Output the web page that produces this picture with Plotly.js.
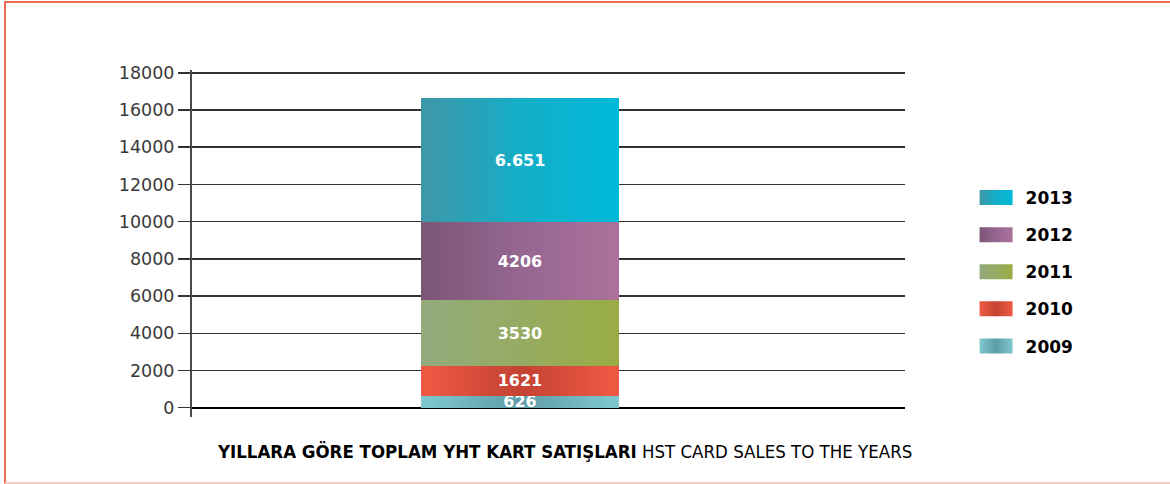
<!DOCTYPE html>
<html>
<head>
<meta charset="utf-8">
<script src="https://cdn.plot.ly/plotly-3.0.1.min.js"></script>
<style>
  html, body { margin: 0; padding: 0; background: #ffffff; }
  #frame { position: absolute; left: 4px; top: 1px; width: 1200px; height: 479px;
           border-left: 2px solid #ef6a55; border-top: 2px solid #ef6a55; border-bottom: 2px solid #f8cdc7; }
  #chart { position: absolute; left: 0; top: 0; width: 1170px; height: 484px; }
</style>
</head>
<body>
<div id="frame"></div>
<div id="chart"></div>
<script>
// ---- data ----
const years = ['2009', '2010', '2011', '2012', '2013'];
const values = [626, 1621, 3530, 4206, 6651];
const valueLabels = ['626', '1621', '3530', '4206', '6.651'];
const yTicks = [0, 2000, 4000, 6000, 8000, 10000, 12000, 14000, 16000, 18000];
const titleBold = 'YILLARA GÖRE TOPLAM YHT KART SATIŞLARI';
const titleRegular = 'HST CARD SALES TO THE YEARS';

// ---- styles ----
const solidColors = ['#72b6c1', '#de4f3d', '#96aa62', '#946690', '#1eaac6'];
const gradientStops = [
  ['#80c8d1', '#5e9da8', '#80c8d1'],
  ['#ef5943', '#c44333', '#ef5943'],
  ['#93ab7e', '#96ab62', '#99ac44'],
  ['#7c5676', '#956690', '#ab729b'],
  ['#3f97a7', '#14aec8', '#00bada']
];

const traces = years.map((yr, i) => ({
  type: 'bar',
  name: yr,
  legendgroup: 'g' + yr,
  legendrank: 100 - i * 10,
  x: [0.46],
  y: [values[i]],
  width: 0.278,
  text: [valueLabels[i]],
  textposition: 'inside',
  insidetextanchor: 'middle',
  constraintext: 'none',
  cliponaxis: false,
  textfont: { family: 'DejaVu Sans, sans-serif', size: 16, color: '#ffffff', weight: 'bold' },
  marker: { color: solidColors[i], line: { width: 0 } },
  hoverinfo: 'skip'
}));

const layout = {
  width: 1170,
  height: 484,
  margin: { l: 192, r: 265, t: 70, b: 67 },
  paper_bgcolor: 'rgba(0,0,0,0)',
  plot_bgcolor: 'rgba(0,0,0,0)',
  barmode: 'stack',
  showlegend: true,
  legend: {
    x: 1.099, xanchor: 'left',
    y: 0.683, yanchor: 'top',
    traceorder: 'grouped',
    tracegroupgap: 12,
    itemwidth: 40,
    font: { family: 'DejaVu Sans, sans-serif', size: 17, color: '#000000', weight: 'bold' },
    bgcolor: 'rgba(0,0,0,0)'
  },
  xaxis: {
    range: [0, 1],
    showticklabels: false,
    showgrid: false,
    zeroline: false,
    showline: false,
    ticks: ''
  },
  yaxis: {
    range: [-500, 18150],
    tickmode: 'array',
    tickvals: yTicks,
    ticktext: yTicks.map(String),
    ticks: 'outside',
    ticklen: 12,
    tickcolor: '#333333',
    tickwidth: 1.5,
    showgrid: true,
    gridcolor: '#333333',
    gridwidth: 1.5,
    zeroline: true,
    zerolinecolor: '#000000',
    zerolinewidth: 1.8,
    showline: true,
    linecolor: '#4a4a4a',
    linewidth: 2,
    tickfont: { family: 'DejaVu Sans, sans-serif', size: 17.5, color: '#3a3a3a' }
  },
  annotations: [{
    xref: 'paper', yref: 'paper',
    x: 0.523, y: -0.1,
    xanchor: 'center', yanchor: 'middle',
    showarrow: false,
    text: '<b>' + titleBold + '</b> ' + titleRegular,
    font: { family: 'Liberation Sans Narrow, DejaVu Sans Condensed, sans-serif', size: 18.5, color: '#000000' }
  }]
};

function applyGradients(gd) {
  const svg = gd.querySelector('.main-svg');
  let defs = svg.querySelector('defs');
  if (!defs) { defs = document.createElementNS('http://www.w3.org/2000/svg', 'defs'); svg.insertBefore(defs, svg.firstChild); }
  gradientStops.forEach(function (stops, i) {
    if (document.getElementById('barGrad' + i)) return;
    const lg = document.createElementNS('http://www.w3.org/2000/svg', 'linearGradient');
    lg.setAttribute('id', 'barGrad' + i);
    lg.setAttribute('x1', '0'); lg.setAttribute('y1', '0');
    lg.setAttribute('x2', '1'); lg.setAttribute('y2', '0');
    stops.forEach(function (c, k) {
      const s = document.createElementNS('http://www.w3.org/2000/svg', 'stop');
      s.setAttribute('offset', String(k / (stops.length - 1)));
      s.setAttribute('stop-color', c);
      lg.appendChild(s);
    });
    defs.appendChild(lg);
  });
  gd.querySelectorAll('.barlayer .trace').forEach(function (g, i) {
    g.querySelectorAll('path').forEach(function (p) {
      p.style.fill = 'url(#barGrad' + i + ')';
      p.setAttribute('fill', 'url(#barGrad' + i + ')');
    });
  });
  gd.querySelectorAll('.legend .traces').forEach(function (g) {
    const d = g.__data__;
    const idx = d && d[0] && d[0].trace ? d[0].trace.index : null;
    if (idx === null) return;
    g.querySelectorAll('.legendpoints path').forEach(function (p) {
      p.setAttribute('d', 'M-21,-7.5H12V7.5H-21Z');
      p.style.fill = 'url(#barGrad' + idx + ')';
      p.style.stroke = 'none';
    });
  });
}

Plotly.newPlot('chart', traces, layout, { staticPlot: true, displayModeBar: false }).then(function (gd) {
  applyGradients(gd);
  setTimeout(function () { applyGradients(gd); }, 50);
});
</script>
</body>
</html>
